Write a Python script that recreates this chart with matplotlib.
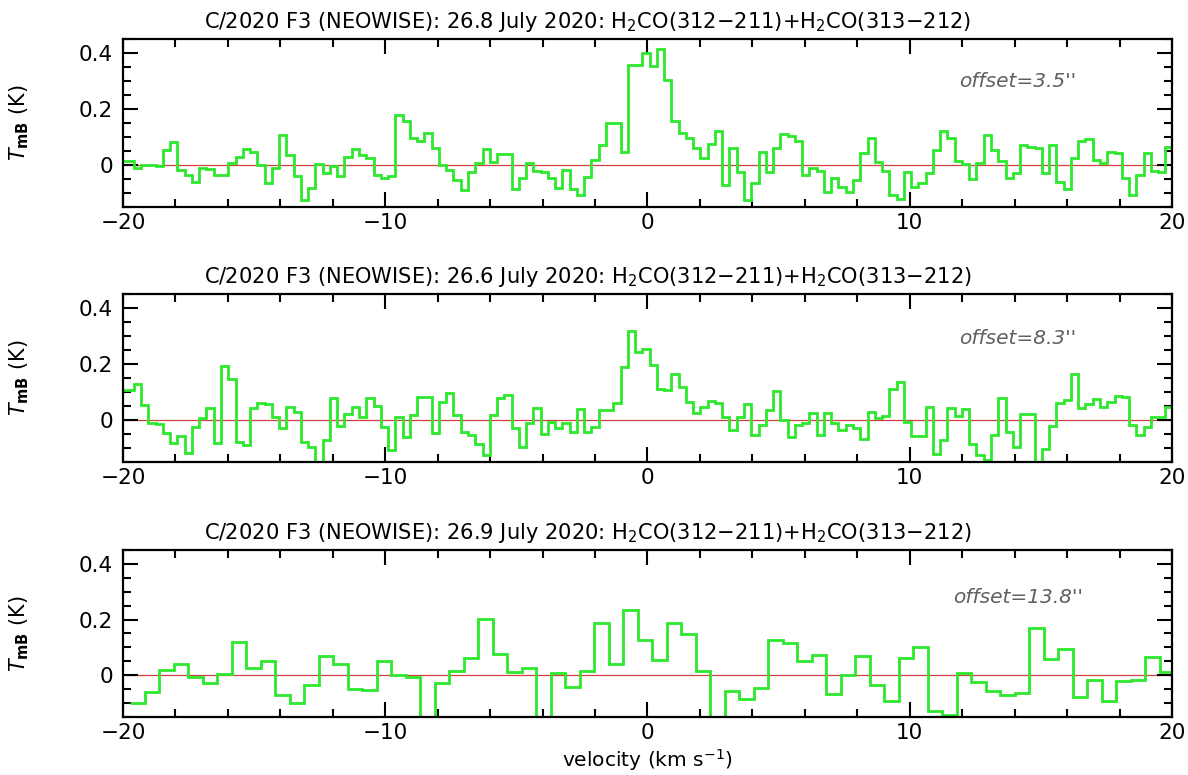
import matplotlib
matplotlib.use("Agg")
import matplotlib.pyplot as plt
import numpy as np
from matplotlib.ticker import MultipleLocator

plt.rcParams["font.family"] = ["DejaVu Sans"]
plt.rcParams["mathtext.fontset"] = "dejavusans"

# channel grids (km/s): first edge and channel width
p1_start, p1_width = -20.14, 0.277
p2_start, p2_width = -20.14, 0.277
p3_start, p3_width = -19.73, 0.553

# brightness temperature per channel (K)
tmb_268 = [
    0.015, 0.015, -0.012, 0.0, 0.0, -0.003, 0.054, 0.082, -0.018, -0.034,
    -0.06, -0.01, -0.015, -0.036, -0.036, 0.006, 0.03, 0.056, 0.048, 0.0,
    -0.066, -0.01, 0.106, 0.034, -0.038, -0.126, -0.082, 0.002, -0.03, -0.004,
    -0.038, 0.03, 0.058, 0.036, 0.024, -0.036, -0.048, -0.04, 0.18, 0.156,
    0.098, 0.084, 0.113, 0.06, 0.0, -0.018, -0.055, -0.09, -0.024, 0.006,
    0.058, 0.01, 0.038, 0.038, -0.086, -0.046, 0.006, -0.022, -0.024, -0.046,
    -0.082, -0.018, -0.086, -0.106, -0.042, 0.018, 0.07, 0.15, 0.15, 0.046,
    0.357, 0.357, 0.40, 0.352, 0.414, 0.303, 0.156, 0.114, 0.098, 0.06,
    0.024, 0.074, 0.122, -0.072, 0.06, -0.024, -0.126, -0.066, 0.046, -0.026,
    0.062, 0.11, 0.102, 0.086, -0.034, -0.012, -0.022, -0.096, -0.048, -0.078,
    -0.096, -0.054, 0.042, 0.098, 0.01, -0.022, -0.106, -0.12, -0.024, -0.078,
    -0.066, -0.03, 0.054, 0.12, 0.098, 0.014, 0.002, -0.05, 0.006, 0.108,
    0.054, 0.014, -0.048, -0.03, 0.072, 0.066, 0.06, -0.03, 0.072, -0.06,
    -0.084, 0.026, 0.084, 0.094, 0.018, 0.006, 0.046, 0.042, -0.048, -0.106,
    -0.036, 0.042, -0.022, -0.024, 0.066,
]
tmb_266 = [
    0.108, 0.108, 0.13, 0.054, -0.012, -0.016, -0.046, -0.082, -0.058, -0.118,
    -0.024, 0.006, 0.042, -0.082, 0.192, 0.147, -0.078, -0.09, 0.042, 0.06,
    0.058, 0.012, -0.03, 0.046, 0.03, -0.078, -0.096, -0.17, -0.072, 0.078,
    -0.022, 0.022, 0.048, 0.01, 0.078, 0.05, -0.026, -0.106, 0.01, -0.06,
    0.018, 0.082, 0.082, -0.046, 0.066, 0.098, 0.018, -0.042, -0.054, -0.086,
    -0.126, 0.018, 0.078, 0.09, -0.03, -0.096, -0.01, 0.042, -0.05, -0.006,
    -0.03, -0.01, -0.044, 0.038, -0.042, -0.024, 0.034, 0.034, 0.062, 0.19,
    0.318, 0.243, 0.255, 0.198, 0.11, 0.106, 0.166, 0.118, 0.066, 0.026,
    0.046, 0.068, 0.062, 0.01, -0.034, 0.012, 0.058, -0.054, -0.018, 0.036,
    0.102, 0.0, -0.06, -0.018, -0.012, 0.026, -0.054, 0.026, -0.012, -0.036,
    -0.018, -0.03, -0.068, 0.03, 0.006, 0.014, 0.11, 0.134, -0.006, -0.058,
    -0.058, 0.046, -0.12, -0.072, 0.042, 0.014, 0.038, -0.084, -0.126, -0.142,
    -0.054, 0.078, -0.042, -0.096, 0.022, 0.022, -0.168, -0.102, -0.022, 0.06,
    0.07, 0.166, 0.042, 0.058, 0.076, 0.046, 0.066, 0.084, 0.082, -0.018,
    -0.054, -0.024, 0.012, 0.012, 0.046,
]
tmb_269 = [
    -0.098, -0.058, 0.018, 0.042, -0.006, -0.028, 0.006, 0.12, 0.026, 0.052,
    -0.072, -0.098, -0.036, 0.07, 0.042, -0.048, -0.054, 0.052, 0.0, -0.006,
    -0.2, -0.026, 0.014, 0.064, 0.202, 0.076, 0.012, 0.028, -0.2, 0.01,
    -0.042, 0.016, 0.186, 0.042, 0.234, 0.128, 0.054, 0.186, 0.147, 0.016,
    -0.2, -0.056, -0.086, -0.046, 0.126, 0.116, 0.05, 0.072, -0.068, 0.0,
    0.068, -0.034, -0.092, 0.064, 0.1, -0.128, -0.142, 0.01, -0.022, -0.056,
    -0.07, -0.064, 0.168, 0.06, 0.096, -0.078, -0.018, -0.092, -0.02, -0.016,
    0.066, 0.012,
]

dates = ["26.8", "26.6", "26.9"]
offsets = ["3.5", "8.3", "13.8"]
spectra = [tmb_268, tmb_266, tmb_269]
grids = [(p1_start, p1_width), (p2_start, p2_width), (p3_start, p3_width)]
offset_y = [0.745, 0.738, 0.712]

xticks = [-20, -10, 0, 10, 20]
xticklabels = ["\u221220", "\u221210", "0", "10", "20"]
yticks = [0, 0.2, 0.4]
yticklabels = ["0", "0.2", "0.4"]

fig = plt.figure(figsize=(11.88, 7.75), dpi=100)
boxes = [
    [0.1035, 0.7329, 0.883, 0.2168],
    [0.1035, 0.4039, 0.883, 0.2167],
    [0.1035, 0.0745, 0.883, 0.2162],
]

for i, ax_box in enumerate(boxes):
    ax = fig.add_axes(ax_box)
    vals = np.asarray(spectra[i])
    start, width = grids[i]
    edges = start + width * np.arange(len(vals) + 1)
    ax.axhline(0, color="#d04040", lw=0.9, zorder=1)
    ax.stairs(vals, edges, baseline=None, color="#2ee82e", lw=2.0, zorder=2)

    ax.set_xlim(-20, 20)
    ax.set_ylim(-0.15, 0.45)
    ax.set_xticks(xticks)
    ax.set_xticklabels(xticklabels)
    ax.set_yticks(yticks)
    ax.set_yticklabels(yticklabels)
    ax.xaxis.set_minor_locator(MultipleLocator(2))
    ax.yaxis.set_minor_locator(MultipleLocator(0.05))
    ax.tick_params(which="both", direction="in", top=True, right=True,
                   width=1.5, labelsize=15.5, colors="black")
    ax.tick_params(which="major", length=11, pad=7)
    ax.tick_params(axis="x", which="major", pad=4)
    ax.tick_params(which="minor", length=6)
    for sp in ax.spines.values():
        sp.set_linewidth(1.6)

    ax.set_ylabel(r"$T_{\mathbf{mB}}$ (K)", fontsize=15)
    ax.yaxis.set_label_coords(-0.088, 0.5)
    ax.set_title(
        f"C/2020 F3 (NEOWISE): {dates[i]} July 2020: "
        r"H$_2$CO(312$-$211)+H$_2$CO(313$-$212)",
        fontsize=15.1, x=0.443, pad=8,
    )
    ax.text(0.853, offset_y[i], f"offset={offsets[i]}''", transform=ax.transAxes,
            ha="center", va="center", style="italic", color="#606060", fontsize=14.5)

fig.text(0.545, 1 - 760 / 775, r"velocity (km s$^{-1}$)", fontsize=14.5,
         ha="center", va="center")

fig.savefig("out.png", dpi=100, facecolor="white")
